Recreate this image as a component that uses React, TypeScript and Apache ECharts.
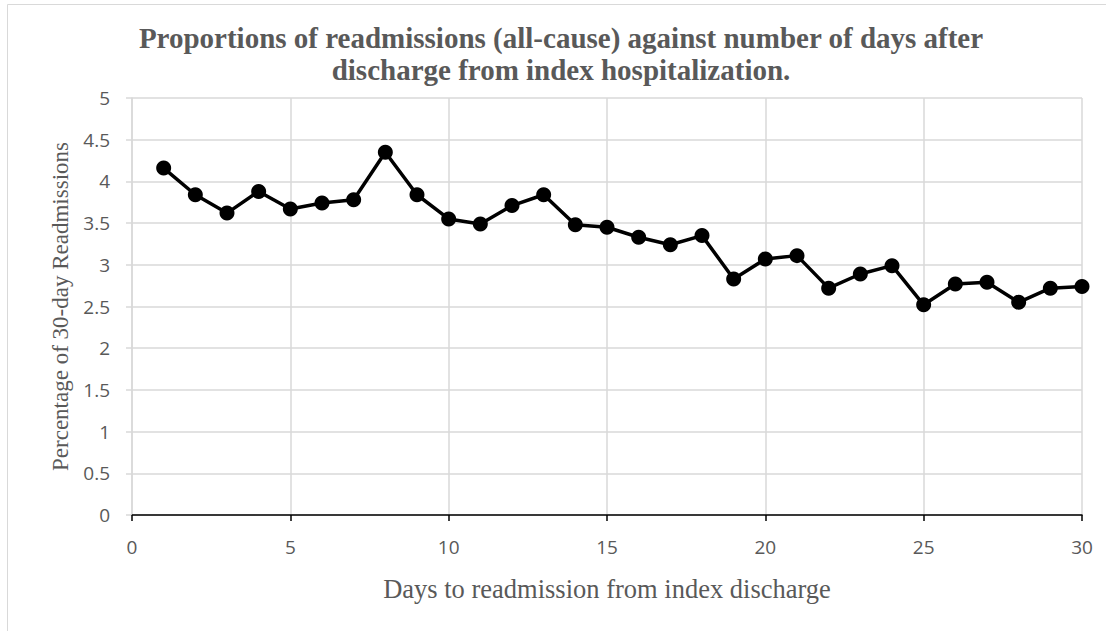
import React, { useEffect, useRef } from "react";
import * as echarts from "echarts";

const days = [1,2,3,4,5,6,7,8,9,10,11,12,13,14,15,16,17,18,19,20,21,22,23,24,25,26,27,28,29,30];
const percentages = [4.16,3.84,3.62,3.88,3.67,3.74,3.78,4.35,3.84,3.55,3.49,3.71,3.84,3.48,3.45,3.33,3.24,3.35,2.83,3.07,3.11,2.72,2.89,2.99,2.52,2.77,2.79,2.55,2.72,2.74];
const titleText = "Proportions of readmissions (all-cause) against number of days after\ndischarge from index hospitalization.";
const xName = "Days to readmission from index discharge";
const yName = "Percentage of 30-day Readmissions";

export default function App() {
  const ref = useRef<HTMLDivElement>(null);
  useEffect(() => {
    if (!ref.current) return;
    const chart = echarts.init(ref.current, null, { renderer: "svg" });
    const labelFont = "Open Sans";
    const serif = "Liberation Serif";
    chart.setOption({
      animation: false,
      backgroundColor: "#fff",
      title: {
        text: titleText,
        left: 556,
        top: 17,
        textAlign: "center",
        textStyle: {
          fontFamily: serif,
          fontWeight: "bold",
          fontSize: 29,
          color: "#595959",
          lineHeight: 32,
        },
      },
      graphic: [
        {
          type: "rect",
          shape: { x: 7.5, y: 4.5, width: 1200, height: 800 },
          style: { fill: "none", stroke: "#d9d9d9", lineWidth: 1 },
          silent: true,
          z: -1,
        },
      ],
      grid: { left: 132, right: 24, top: 98, bottom: 116, containLabel: false },
      xAxis: {
        type: "value",
        min: 0,
        max: 30,
        interval: 5,
        name: xName,
        nameLocation: "middle",
        nameGap: 60,
        nameTextStyle: { fontFamily: serif, fontSize: 26.5, color: "#595959" },
        axisLine: { show: true, lineStyle: { color: "#000", width: 1.5 } },
        axisTick: { show: true, length: 6, lineStyle: { color: "#000", width: 1.5 } },
        axisLabel: { fontFamily: labelFont, fontSize: 19, color: "#595959", margin: 22 },
        splitLine: { show: true, lineStyle: { color: "#d9d9d9", width: 1.5 } },
      },
      yAxis: {
        type: "value",
        min: 0,
        max: 5,
        interval: 0.5,
        name: yName,
        nameLocation: "middle",
        nameGap: 59,
        nameTextStyle: { fontFamily: serif, fontSize: 23, color: "#595959" },
        axisLine: { show: true, lineStyle: { color: "#d9d9d9", width: 1.5 } },
        axisTick: { show: true, length: 6, lineStyle: { color: "#d9d9d9", width: 1.5 } },
        axisLabel: { fontFamily: labelFont, fontSize: 19, color: "#595959", margin: 22 },
        splitLine: { show: true, lineStyle: { color: "#d9d9d9", width: 1.5 } },
      },
      series: [
        {
          type: "line",
          data: days.map((d, i) => [d, percentages[i]]),
          symbol: "circle",
          symbolSize: 15,
          itemStyle: { color: "#000" },
          lineStyle: { color: "#000", width: 3.5 },
          z: 5,
        },
      ],
    });
    return () => chart.dispose();
  }, []);
  return <div ref={ref} style={{ position: "absolute", left: 0, top: 0, width: 1106, height: 631 }} />;
}
